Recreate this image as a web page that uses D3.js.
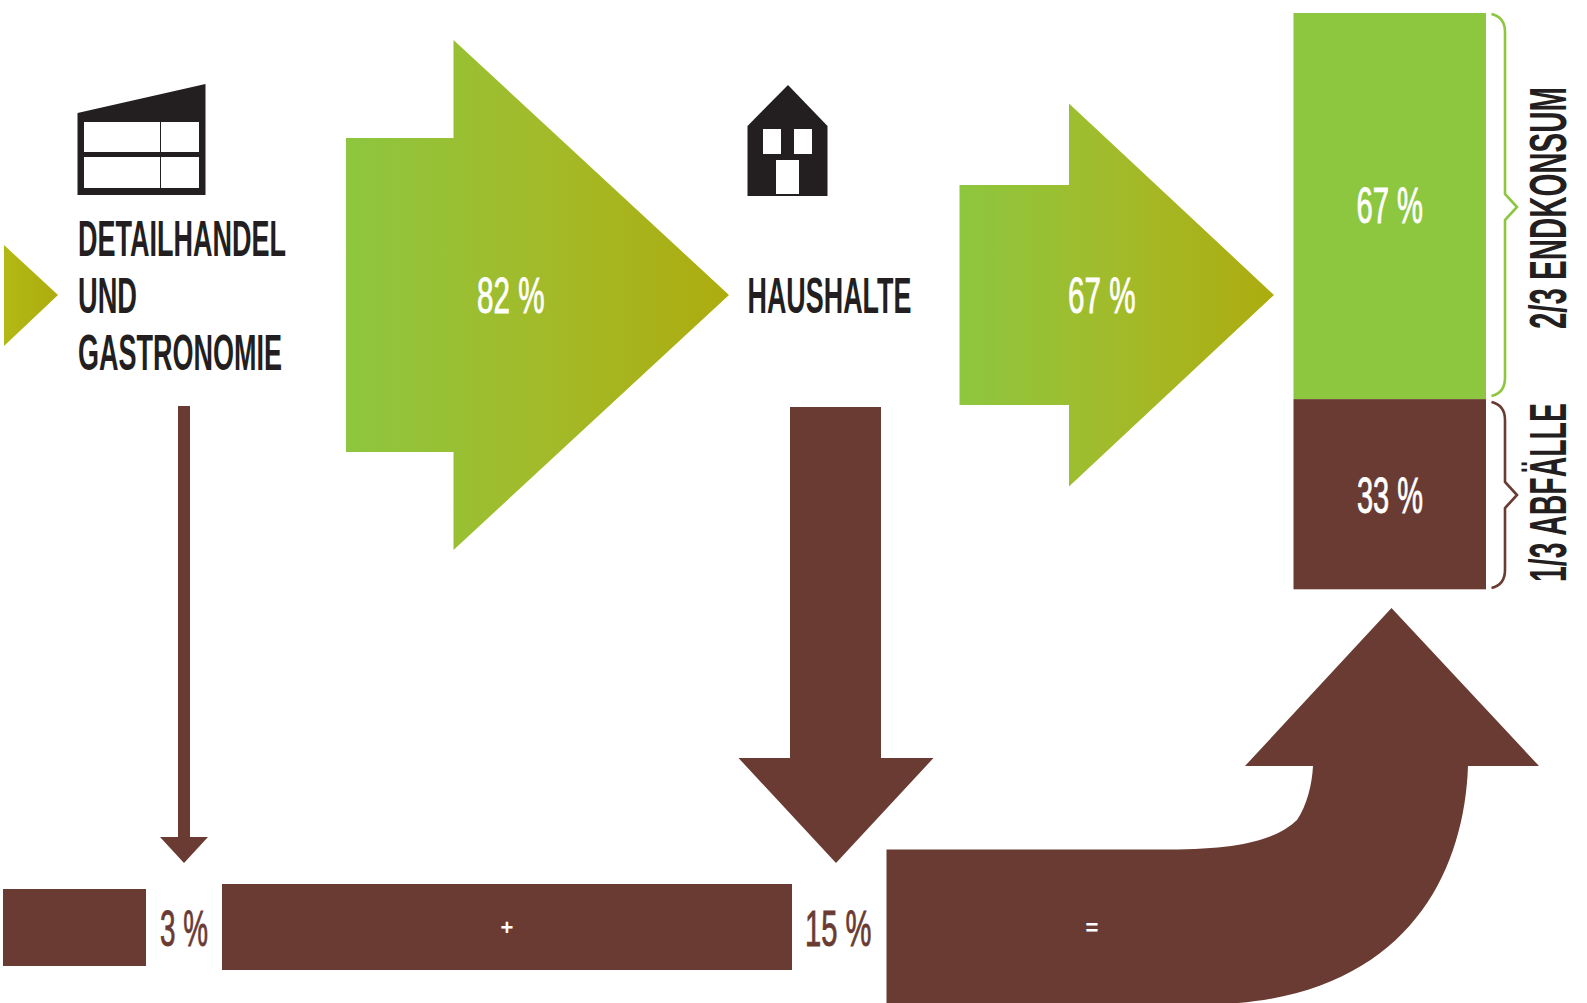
<!DOCTYPE html>
<html lang="de">
<head>
<meta charset="utf-8">
<title>Lebensmittelabfälle</title>
<script src="https://cdn.jsdelivr.net/npm/d3@7/dist/d3.min.js"></script>
<style>
  html, body { margin: 0; padding: 0; background: #fff; }
  svg { display: block; }
  text { font-family: "Liberation Sans Narrow", "Liberation Sans", sans-serif; }
</style>
</head>
<body>
<svg id="chart" width="1587" height="1003"></svg>
<script>
// Flow shares, in percent of the food that enters each stage
const flowLabels = ["82 %", "67 %"];
const flowValues = [82, 67];
const lossLabels = ["3 %", "15 %"];
const lossValues = [3, 15];
const totalLoss = 18;
const stackNames = ["Endkonsum", "Abfälle"];
const stackValues = [67, 33];
const stackLabels = ["67 %", "33 %"];
const stackTitles = ["2/3 ENDKONSUM", "1/3 ABFÄLLE"];
const stageTitles = [["DETAILHANDEL", "UND", "GASTRONOMIE"], ["HAUSHALTE"]];
const operators = ["+", "="];

const GREEN = "#8dc63f", OLIVE = "#adac0f", BROWN = "#6a3b32", INK = "#231f20";
const svg = d3.select("#chart");
const line = d3.line();

// Ribbon thickness for a given share
const thick = d3.scaleLinear().domain([3, 15, 18, 67, 82]).range([12, 91, 155, 220, 314]);
// Size of the loss blocks along the bottom
const blockW = d3.scaleLinear().domain([3, 15]).range([143, 570]);
const blockH = d3.scaleLinear().domain([3, 15]).range([77, 86]);
// Stacked column
const stackY = d3.scaleLinear().domain([0, 100]).range([589.3, 13]);

const defs = svg.append("defs");
function gradient(id, stops) {
  const g = defs.append("linearGradient").attr("id", id);
  stops.forEach(([o, c]) => g.append("stop").attr("offset", o).attr("stop-color", c));
}
gradient("flow", [[0, GREEN], [0.5, "#a2bb2a"], [1, OLIVE]]);
gradient("tail", [[0, "#b2b914"], [1, OLIVE]]);

// Text squeezed horizontally to a set width, baseline on the given y
function label(g, str, x, base, width, size, fill, weight, stroke) {
  const t = g.append("text")
    .attr("font-size", size)
    .attr("font-weight", weight || "bold")
    .attr("fill", fill)
    .text(str);
  if (stroke) t.attr("stroke", fill).attr("stroke-width", stroke);
  const natural = t.node().getComputedTextLength();
  t.attr("transform", `translate(${x},${base}) scale(${width / natural},1)`);
  return t;
}

// Horizontal block arrow centred on cy
function rightArrow(x0, neck, tip, cy, shaft, headHalf) {
  return [[x0, cy - shaft / 2], [neck, cy - shaft / 2], [neck, cy - headHalf], [tip, cy],
          [neck, cy + headHalf], [neck, cy + shaft / 2], [x0, cy + shaft / 2]];
}
// Vertical block arrow centred on cx
function downArrow(cx, y0, neck, tip, shaft, headHalf, tipX) {
  return [[cx - shaft / 2, y0], [cx + shaft / 2, y0], [cx + shaft / 2, neck], [tipX + headHalf, neck],
          [tipX, tip], [tipX - headHalf, neck], [cx - shaft / 2, neck]];
}

// Tail of the flow coming in from the left
svg.append("path")
  .attr("d", line([[4, 245], [58, 295], [4, 346]]) + "Z")
  .attr("fill", "url(#tail)");

// Green flow arrows
const flowGeom = [
  { x0: 346, neck: 453.5, tip: 729, headHalf: 255, cy: 295 },
  { x0: 959.5, neck: 1069, tip: 1274, headHalf: 191.5, cy: 295 }
];
svg.selectAll("path.flow").data(flowValues).join("path")
  .attr("class", "flow")
  .attr("fill", "url(#flow)")
  .attr("d", (v, i) => {
    const g = flowGeom[i];
    return line(rightArrow(g.x0, g.neck, g.tip, g.cy, thick(v), g.headHalf)) + "Z";
  });

// Percentages on the green arrows
const flowText = svg.append("g");
label(flowText, flowLabels[0], 477, 313, 67.5, 50, "#fff", "normal", 0.9);
label(flowText, flowLabels[1], 1068, 313, 67.5, 50, "#fff", "normal", 0.9);

// Stacked column with its two shares
const stackColors = [GREEN, BROWN];
let running = 100;
const stackRows = stackValues.map((v, i) => {
  const row = { name: stackNames[i], top: running, bottom: running - v };
  running -= v;
  return row;
});
svg.selectAll("rect.stack").data(stackRows).join("rect")
  .attr("class", "stack")
  .attr("x", 1293.5).attr("width", 192.5)
  .attr("y", d => stackY(d.top))
  .attr("height", d => stackY(d.bottom) - stackY(d.top))
  .attr("fill", (d, i) => stackColors[i]);
const stackText = svg.append("g");
label(stackText, stackLabels[0], 1356.5, 223, 66.5, 50, "#fff", "normal", 0.9);
label(stackText, stackLabels[1], 1357, 512.5, 66, 50, "#fff", "normal", 0.9);

// Curly braces beside the column
function brace(top, bottom, mid, color) {
  const xs = 1491.5, xb = 1505, xt = 1517;
  const d = `M${xs},${top}C${xb - 5},${top + 2} ${xb},${top + 8} ${xb},${top + 18}` +
    `L${xb},${mid - 13}L${xt},${mid}L${xb},${mid + 13}` +
    `L${xb},${bottom - 18}C${xb},${bottom - 8} ${xb - 5},${bottom - 2} ${xs},${bottom}`;
  svg.append("path").attr("d", d).attr("fill", "none").attr("stroke", color).attr("stroke-width", 2.6);
}
brace(14, 396, 207, GREEN);
brace(402, 588, 495, BROWN);

// Rotated captions
function rotated(str, yBottom, length) {
  const g = svg.append("g").attr("transform", `translate(1566,${yBottom}) rotate(-90)`);
  label(g, str, 0, 0, length, 51, INK);
}
rotated(stackTitles[0], 329, 242);
rotated(stackTitles[1], 582, 179);

// Retail shopfront
svg.append("path").attr("d", line([[77.5, 113], [205.5, 84], [205.5, 195], [77.5, 195]]) + "Z").attr("fill", INK);
[[122, 152], [157, 188]].forEach(([y0, y1]) => {
  svg.append("rect").attr("x", 84).attr("y", y0).attr("width", 115).attr("height", y1 - y0).attr("fill", "#fff");
});
svg.append("rect").attr("x", 160).attr("y", 122).attr("width", 1).attr("height", 66).attr("fill", INK);

// Household icon
svg.append("path")
  .attr("d", line([[747.5, 126], [788, 85], [827.5, 126], [827.5, 196], [747.5, 196]]) + "Z")
  .attr("fill", INK);
[[763, 129, 18, 25], [794, 129, 18, 25], [776, 160, 23, 34]].forEach(([x, y, w, h]) => {
  svg.append("rect").attr("x", x).attr("y", y).attr("width", w).attr("height", h).attr("fill", "#fff");
});

// Stage titles
const titles = svg.append("g");
label(titles, stageTitles[0][0], 78, 255.5, 208, 50, INK);
label(titles, stageTitles[0][1], 78, 313, 59, 50, INK);
label(titles, stageTitles[0][2], 78, 369.5, 204, 50, INK);
label(titles, stageTitles[1][0], 747.5, 313, 164, 50, INK);

// Brown loss arrows falling from each stage
const lossGeom = [
  { cx: 184, y0: 406, neck: 837, tip: 863, headHalf: 24, tipX: 184 },
  { cx: 835.5, y0: 407, neck: 758, tip: 863, headHalf: 97.5, tipX: 836 }
];
svg.selectAll("path.loss").data(lossValues).join("path")
  .attr("class", "loss")
  .attr("fill", BROWN)
  .attr("d", (v, i) => {
    const g = lossGeom[i];
    return line(downArrow(g.cx, g.y0, g.neck, g.tip, thick(v), g.headHalf, g.tipX)) + "Z";
  });

// Loss blocks along the bottom
const blockGeom = [{ x: 3, cy: 927.5 }, { x: 222, cy: 927 }];
svg.selectAll("rect.block").data(lossValues).join("rect")
  .attr("class", "block")
  .attr("x", (v, i) => blockGeom[i].x)
  .attr("y", (v, i) => blockGeom[i].cy - blockH(v) / 2)
  .attr("width", v => blockW(v))
  .attr("height", v => blockH(v))
  .attr("fill", BROWN);
const lossText = svg.append("g");
label(lossText, lossLabels[0], 160, 945.5, 48, 50, BROWN, "normal", 0.9);
label(lossText, lossLabels[1], 805, 945.5, 66.5, 50, BROWN, "normal", 0.9);

// Combined loss bends up into the column
const band = thick(totalLoss);
const bendTop = 849.5, shaftL = 1313, shaftR = shaftL + band, neckY = 766;
const bend = d3.path();
bend.moveTo(886.5, bendTop);
bend.lineTo(1168, bendTop);
bend.bezierCurveTo(1245, bendTop, 1278, 838, 1297, 820);
bend.bezierCurveTo(1307, 805, 1312, 785, shaftL, neckY);
bend.lineTo(1245, neckY);
bend.lineTo(1391.5, 608);
bend.lineTo(1539, neckY);
bend.lineTo(shaftR, neckY);
bend.bezierCurveTo(1464, 880, 1400, 1003, 1205, bendTop + band);
bend.lineTo(886.5, bendTop + band);
bend.closePath();
svg.append("path").attr("d", bend.toString()).attr("fill", BROWN);

// Plus and equals signs on the brown blocks
const opText = svg.append("g").attr("fill", "#fff").attr("font-weight", "bold").attr("font-size", 22).attr("text-anchor", "middle");
opText.append("text").attr("x", 507).attr("y", 935).text(operators[0]);
opText.append("text").attr("x", 1092).attr("y", 935).text(operators[1]);
</script>
</body>
</html>
